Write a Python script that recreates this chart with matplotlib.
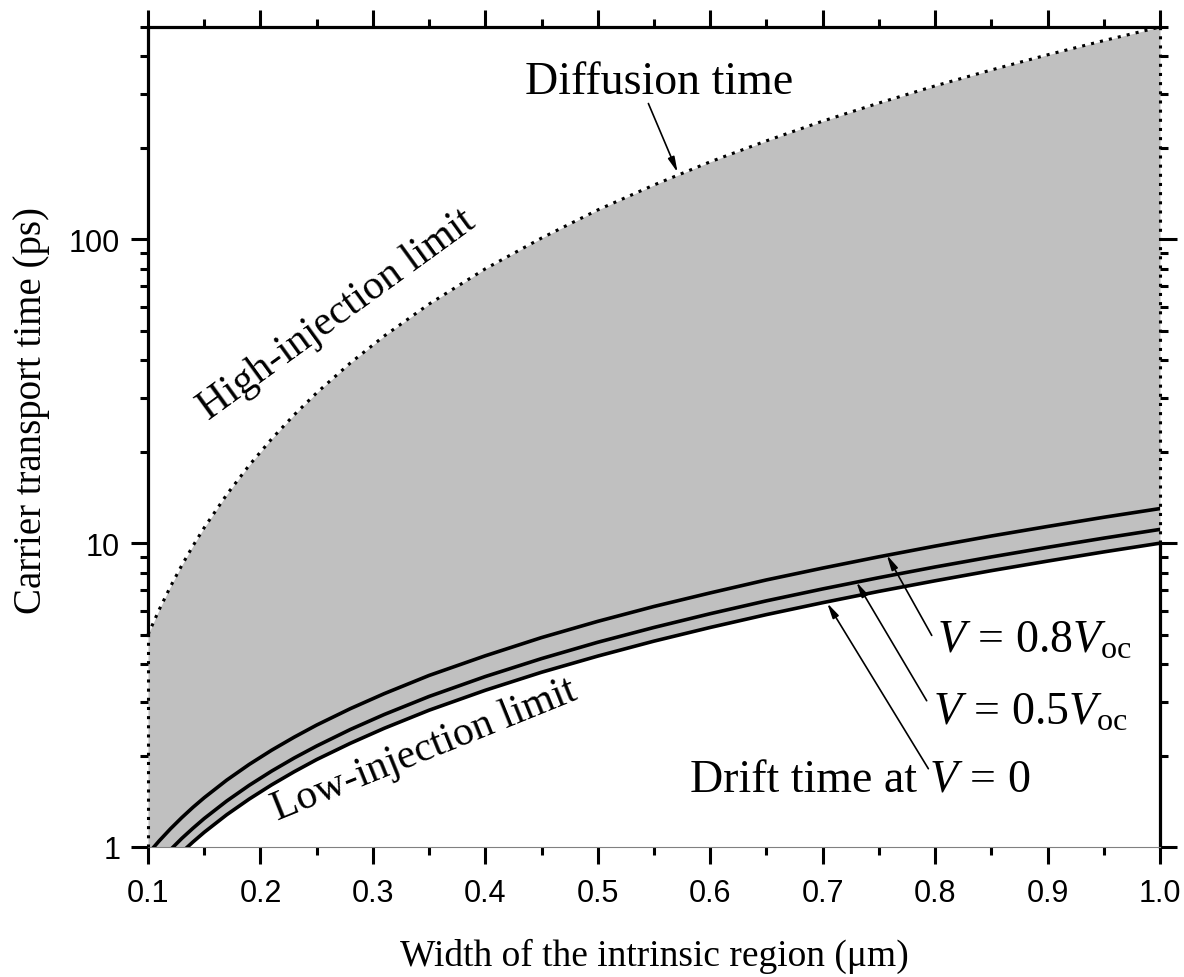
import matplotlib
matplotlib.use("Agg")
import matplotlib.pyplot as plt
from matplotlib.ticker import FixedLocator, LogLocator, NullFormatter

# width of the intrinsic region (um)
width = [0.10, 0.11, 0.12, 0.13, 0.14, 0.15, 0.17, 0.19, 0.21, 0.23,
         0.25, 0.28, 0.31, 0.35, 0.40, 0.45, 0.50, 0.55, 0.60, 0.65,
         0.70, 0.75, 0.80, 0.85, 0.90, 0.95, 1.00]

# diffusion time, high-injection limit (ps)
diffusion = [5.0, 6.05, 7.2, 8.45, 9.8, 11.25, 14.45, 18.05, 22.05, 26.45,
             31.25, 39.2, 48.05, 61.25, 80.0, 101.0, 125.0, 151.0, 180.0, 211.0,
             245.0, 281.0, 320.0, 361.0, 405.0, 451.0, 500.0]

# drift times (ps)
drift_v0 = [0.73, 0.806, 0.883, 0.961, 1.039, 1.118, 1.277, 1.438, 1.602, 1.769,
            1.94, 2.195, 2.458, 2.82, 3.28, 3.76, 4.25, 4.76, 5.28, 5.82,
            6.37, 6.94, 7.52, 8.12, 8.73, 9.36, 10.0]
drift_05 = [0.81, 0.895, 0.980, 1.067, 1.153, 1.241, 1.417, 1.596, 1.778, 1.963,
            2.15, 2.437, 2.729, 3.13, 3.64, 4.17, 4.72, 5.28, 5.86, 6.46,
            7.07, 7.70, 8.35, 9.01, 9.69, 10.39, 11.1]
drift_08 = [0.95, 1.048, 1.148, 1.249, 1.351, 1.453, 1.660, 1.870, 2.083, 2.299,
            2.52, 2.854, 3.196, 3.67, 4.26, 4.89, 5.53, 6.19, 6.86, 7.57,
            8.28, 9.02, 9.78, 10.56, 11.35, 12.17, 13.0]

x_ticks = [0.1, 0.2, 0.3, 0.4, 0.5, 0.6, 0.7, 0.8, 0.9, 1.0]
x_minor = [0.15, 0.25, 0.35, 0.45, 0.55, 0.65, 0.75, 0.85, 0.95]
y_ticks = [1, 10, 100]
ylim = (1, 500)

plt.rcParams['mathtext.fontset'] = 'custom'
plt.rcParams['mathtext.rm'] = 'Liberation Serif'
plt.rcParams['mathtext.it'] = 'Liberation Serif:italic'

serif = 'Liberation Serif'
sans = 'Liberation Sans'

fig = plt.figure(figsize=(11.84, 9.78), dpi=100)
ax = fig.add_axes([148 / 1184, 1 - 848 / 978, 1012 / 1184, 820 / 978])
ax.set_yscale('log')
ax.set_xlim(0.1, 1.0)
ax.set_ylim(*ylim)

# shaded band between the limits
ax.fill_between(width, drift_v0, diffusion, color='#c0c0c0', lw=0, zorder=1)

dot = (0, (1, 2))
ax.plot(width, diffusion, color='black', lw=2.2, ls=dot, zorder=4, clip_on=False)
ax.plot([width[0]] * 2, [ylim[0], diffusion[0]], color='black', lw=2.2, ls=dot,
        zorder=4, clip_on=False)
ax.plot([width[-1]] * 2, [drift_v0[-1], diffusion[-1]], color='black', lw=2.2,
        ls=dot, zorder=4, clip_on=False)

for d in (drift_v0, drift_05, drift_08):
    ax.plot(width, d, color='black', lw=2.6, zorder=3)

# axes styling
for side in ('left', 'top', 'right'):
    ax.spines[side].set_linewidth(2.3)
ax.spines['bottom'].set_linewidth(0.8)
ax.spines['bottom'].set_color('#808080')
ax.spines['left'].set_bounds(diffusion[0], ylim[1])
ax.spines['right'].set_bounds(ylim[0], drift_v0[-1])

ax.xaxis.set_major_locator(FixedLocator(x_ticks))
ax.xaxis.set_minor_locator(FixedLocator(x_minor))
ax.set_xticklabels(['%.1f' % v for v in x_ticks])
ax.yaxis.set_major_locator(FixedLocator(y_ticks))
ax.yaxis.set_minor_locator(LogLocator(base=10, subs=range(2, 10)))
ax.yaxis.set_minor_formatter(NullFormatter())
ax.set_yticklabels([str(v) for v in y_ticks])

ax.tick_params(which='both', direction='out', top=True, right=True,
               labeltop=False, labelright=False, width=2.2)
ax.tick_params(which='major', length=12, pad=8, labelsize=22)
ax.tick_params(axis='x', which='major', pad=10)
ax.tick_params(which='minor', length=6)
for lab in ax.get_xticklabels() + ax.get_yticklabels():
    lab.set_family(sans)

ax.set_xlabel('Width of the intrinsic region (\u03bcm)', family=serif,
              fontsize=27, labelpad=22)
ax.set_ylabel('Carrier transport time (ps)', family=serif, fontsize=28)
ax.yaxis.set_label_coords(-0.097, 0.534)

# annotations
ax.text(0.555, 303, 'Diffusion time', family=serif, fontsize=33,
        ha='center', va='baseline')
arrow = dict(arrowstyle='-|>,head_length=0.9,head_width=0.2', color='black',
             lw=1.2, shrinkA=0, shrinkB=0)
ax.annotate('', xy=(0.571, 166), xytext=(0.545, 280), arrowprops=arrow)

ax.text(0.268, 57, 'High-injection limit', family=serif, fontsize=30,
        rotation=36, rotation_mode='anchor', ha='center', va='center')
ax.text(0.346, 2.1, 'Low-injection limit', family=serif, fontsize=30,
        rotation=22, rotation_mode='anchor', ha='center', va='center')

ax.text(0.802, 4.39, r'$V\,=\,0.8V_{\mathrm{oc}}$', fontsize=33, va='baseline')
ax.text(0.798, 2.54, r'$V\,=\,0.5V_{\mathrm{oc}}$', fontsize=33, va='baseline')
ax.text(0.582, 1.53, 'Drift time at ', family=serif, fontsize=33,
        va='baseline', ha='left')
ax.text(0.795, 1.53, r'$V\,=\,0$', fontsize=33, va='baseline', ha='left')

ax.annotate('', xy=(0.757, 9.15), xytext=(0.797, 4.97), arrowprops=arrow)
ax.annotate('', xy=(0.730, 7.45), xytext=(0.7925, 3.03), arrowprops=arrow)
ax.annotate('', xy=(0.704, 6.35), xytext=(0.794, 1.81), arrowprops=arrow)

fig.savefig('out.png', dpi=100)
